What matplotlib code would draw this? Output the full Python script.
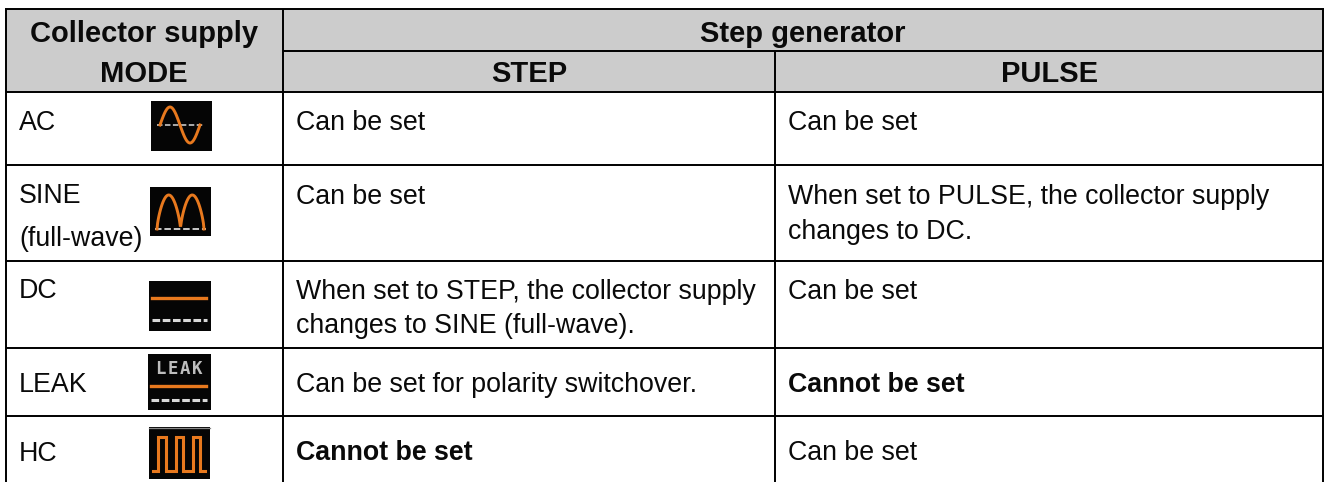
import numpy as np
import matplotlib
matplotlib.use("Agg")
import matplotlib.pyplot as plt
from matplotlib.patches import Rectangle

plt.rcParams['font.family'] = ['Liberation Sans', 'DejaVu Sans']

W, H = 1327, 482
# table content
header_top = ["Collector supply", "Step generator"]
header_sub = ["MODE", "STEP", "PULSE"]
mode_labels = ["AC", "SINE\n(full-wave)", "DC", "LEAK", "HC"]
step_cells = ["Can be set", "Can be set",
              "When set to STEP, the collector supply\nchanges to SINE (full-wave).",
              "Can be set for polarity switchover.", "Cannot be set"]
pulse_cells = ["Can be set", "When set to PULSE, the collector supply\nchanges to DC.",
               "Can be set", "Cannot be set", "Can be set"]

# grid geometry (pixels)
XL, X1, X2, XR = 6, 283, 775, 1323
YT, Y1, Y2 = 9, 51, 91.5
ROW_LINES = [165, 260.5, 347.5, 415.5]
FS = 19.25
FSH = 21
GRAY = '#cccccc'
ORANGE = '#e8791e'
LW = 1.5 * 72 / 100 * 1.3

fig = plt.figure(figsize=(W / 100, H / 100), dpi=100)
ax = fig.add_axes([0, 0, 1, 1])
ax.set_xlim(0, W)
ax.set_ylim(H, 0)
ax.axis('off')

ax.add_patch(Rectangle((XL, YT), XR - XL, Y2 - YT, fc=GRAY, ec='none', zorder=0))

def hl(y, a, b):
    ax.plot([a, b], [y, y], color='k', lw=LW, solid_capstyle='butt', zorder=3)
def vl(x, a, b):
    ax.plot([x, x], [a, b], color='k', lw=LW, solid_capstyle='butt', zorder=3)

hl(YT, XL - 1, XR + 1)
hl(Y1, X1, XR)
hl(Y2, XL, XR)
for y in ROW_LINES:
    hl(y, XL, XR)
vl(XL, YT, H)
vl(X1, YT, H)
vl(X2, Y1, H)
vl(XR, YT, H)

# headers
def txt(x, y, s, bold=False, size=FS, ha='left', color='#0a0a0a'):
    ax.text(x, y, s, fontsize=size, fontweight='bold' if bold else 'normal',
            ha=ha, va='baseline', color=color, zorder=5)

txt(144, 41.5, header_top[0], True, FSH, 'center')
txt(803, 41.5, header_top[1], True, FSH, 'center')
txt(144, 82.5, header_sub[0], True, FSH, 'center')
txt(529, 82.5, header_sub[1], True, FSH, 'center')
txt(1050, 82.5, header_sub[2], True, FSH, 'center')

# body
base = [[129.5], [203, 246], [298], [392], [461]]
base2 = [[129.5], [204, 239], [299, 333], [392.5], [460.5]]
for i, s in enumerate(mode_labels):
    for y, line in zip(base[i], s.split("\n")):
        txt(19, y, line)
for i, s in enumerate(step_cells):
    ys = base2[i] if i != 1 else [203.5]
    for y, line in zip(ys, s.split("\n")):
        txt(296, y, line, bold=s.startswith("Cannot"))
for i, s in enumerate(pulse_cells):
    for y, line in zip(base2[i], s.split("\n")):
        txt(788.5, y, line, bold=s.startswith("Cannot"))

# icons
def box(x0, x1, y0, y1):
    ax.add_patch(Rectangle((x0, y0), x1 - x0, y1 - y0, fc='#050505', ec='none', zorder=2))
def dash(x0, x1, y, lw=1.1, pat=(3.6, 1.6), color='#d8d8d8'):
    ax.plot([x0, x1], [y, y], color=color, lw=lw, ls=(0, pat), zorder=4)
def orange(xs, ys, lw=2.1):
    ax.plot(xs, ys, color=ORANGE, lw=lw, solid_joinstyle='miter', zorder=5)

# AC
box(151, 212, 101, 151)
dash(157, 204, 125)
t = np.linspace(0, 1, 80)
orange(160 + 40 * t, 125 - 18 * np.sin(2 * np.pi * t))
# SINE
box(150, 211, 187, 236)
dash(155, 206, 229, 1.3)
orange(157 + 47 * t, 229 - 34 * np.abs(np.sin(2 * np.pi * t)) ** 0.7)
# DC
box(149, 211, 281, 331)
orange([152, 206], [298, 298], 2.4)
dash(152, 207, 320, 2.2, (2.5, 0.85))
# LEAK
box(148, 211, 354, 410)
for cx, ch in zip([160, 172.5, 185, 197.5], "LEAK"):
    ax.text(cx, 368.5, ch, fontsize=12.5, family='DejaVu Sans Mono', fontweight='bold',
            color='#bdbdbd', ha='center', va='center', zorder=5)
orange([151, 206], [386, 386], 2.4)
dash(151, 207, 400, 2.2, (2.5, 0.85))
# HC
box(149, 210, 427, 479)
ax.plot([149, 210], [427.5, 427.5], color='#888888', lw=0.9, zorder=5)
orange([153, 158, 158, 166, 166, 176, 176, 183, 183, 193, 193, 200, 200, 205],
       [471, 471, 437, 437, 471, 471, 437, 437, 471, 471, 437, 437, 471, 471], 2.2)

fig.savefig("out.png", dpi=100)
